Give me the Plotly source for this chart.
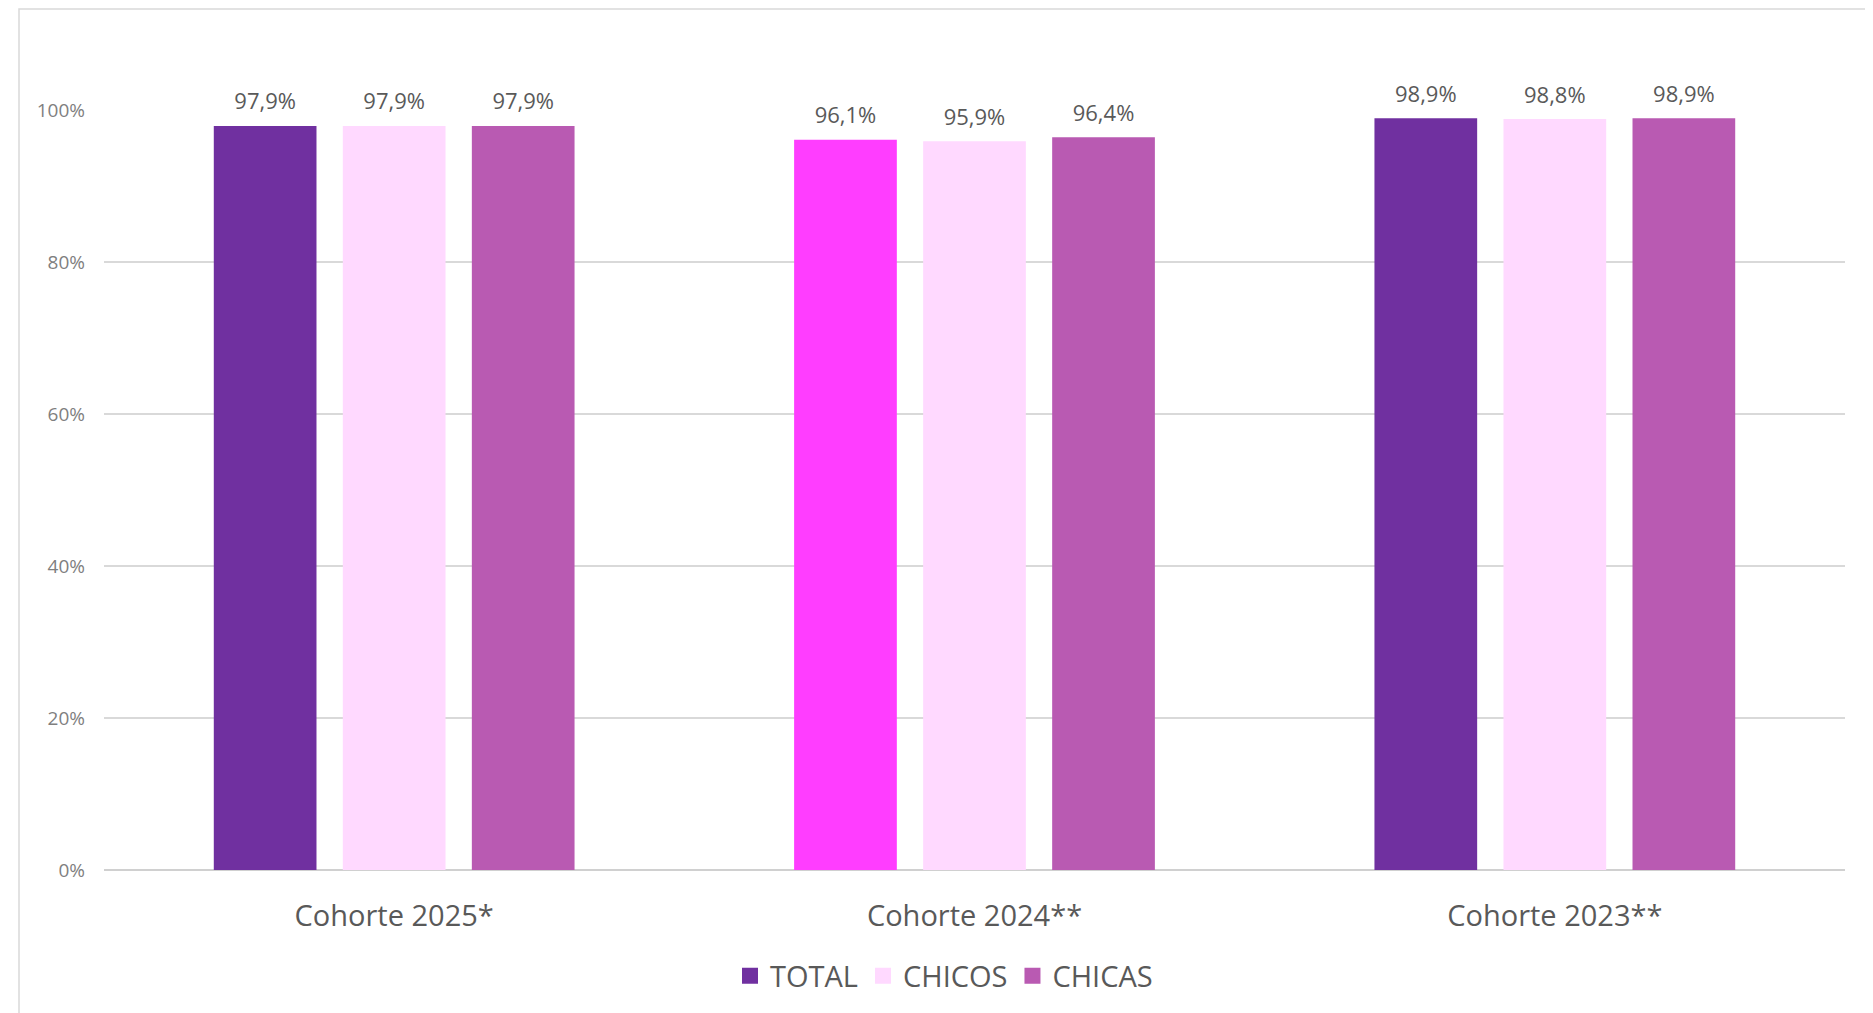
import plotly.graph_objects as go

categories = ["Cohorte 2025*", "Cohorte 2024**", "Cohorte 2023**"]
series_names = ["TOTAL", "CHICOS", "CHICAS"]
total = [97.9, 96.1, 98.9]
chicos = [97.9, 95.9, 98.8]
chicas = [97.9, 96.4, 98.9]
y_ticks = [0, 20, 40, 60, 80, 100]

total_colors = ["#7030A0", "#FF3DFF", "#7030A0"]
chicos_color = "#FFD9FF"
chicas_color = "#B95AB2"

# page has an 8px body margin, so the figure is drawn 8px in from the window edge
W, H = 1865, 1005
L, R, T, B = 96, 28, 102, 143

def fmt(vals):
    return [f"{v:.1f}%".replace(".", ",") for v in vals]

FONT = "Open Sans"
GAP = 0.333
fig = go.Figure()
series = [(series_names[0], total, total_colors),
          (series_names[1], chicos, chicos_color),
          (series_names[2], chicas, chicas_color)]
for name, vals, col in series:
    fig.add_trace(go.Bar(
        x=categories, y=vals, name=name,
        marker=dict(color=col, line=dict(width=0)),
        offsetgroup=name, alignmentgroup="a",
        showlegend=False, hoverinfo="skip",
    ))
for name, vals, col in series:
    fig.add_trace(go.Scatter(
        x=categories, y=vals, name=name + " labels",
        mode="markers+text", text=fmt(vals), textposition="top center",
        marker=dict(size=16, opacity=0),
        offsetgroup=name, alignmentgroup="a",
        textfont=dict(family=FONT, size=22, color="#595959"),
        cliponaxis=False, showlegend=False, hoverinfo="skip",
    ))

legend_colors = ["#7030A0", chicos_color, chicas_color]
for name, col in zip(series_names, legend_colors):
    fig.add_trace(go.Scatter(
        x=[None], y=[None], mode="markers", name=name,
        marker=dict(symbol="square", size=20, color=col),
        xaxis="x2", yaxis="y2", showlegend=True,
    ))

pw = W - L - R
ph = H - T - B
x0 = (11 - L) / pw
x1 = (1862 - L) / pw
y1 = 1 + (T - 1) / ph
y0 = -(B + 20) / ph
fig.add_shape(type="rect", xref="paper", yref="paper", x0=x0, x1=x1, y0=y0, y1=y1,
              line=dict(color="#D9D9D9", width=1.5), fillcolor="rgba(0,0,0,0)", layer="below")

fig.update_layout(
    width=W, height=H,
    margin=dict(l=L, r=R, t=T, b=B),
    paper_bgcolor="white", plot_bgcolor="white",
    barmode="group", bargap=GAP, bargroupgap=0.204,
    scattermode="group", scattergap=GAP,
    font=dict(family=FONT, color="#595959"),
    legend=dict(orientation="h", x=(936 - L) / pw, xanchor="center",
                y=-(968 - (T + ph)) / ph, yanchor="middle",
                font=dict(family=FONT, size=29, color="#595959"),
                itemsizing="trace", traceorder="normal", itemwidth=30),
    xaxis=dict(showgrid=False, showline=False, ticks="",
               tickfont=dict(family=FONT, size=29, color="#595959"),
               ticklabelstandoff=26),
    yaxis=dict(range=[0, 100], tickmode="array", tickvals=y_ticks,
               ticktext=[f"{v}%" for v in y_ticks],
               showgrid=True, gridcolor="#D9D9D9", gridwidth=1.5,
               zeroline=True, zerolinecolor="#D0D0D0", zerolinewidth=2,
               showline=False, ticks="",
               tickfont=dict(family=FONT, size=19, color="#7F7F7F"),
               ticklabelstandoff=18),
    xaxis2=dict(overlaying="x", visible=False),
    yaxis2=dict(overlaying="y", visible=False),
)

fig.write_html("out.html")
